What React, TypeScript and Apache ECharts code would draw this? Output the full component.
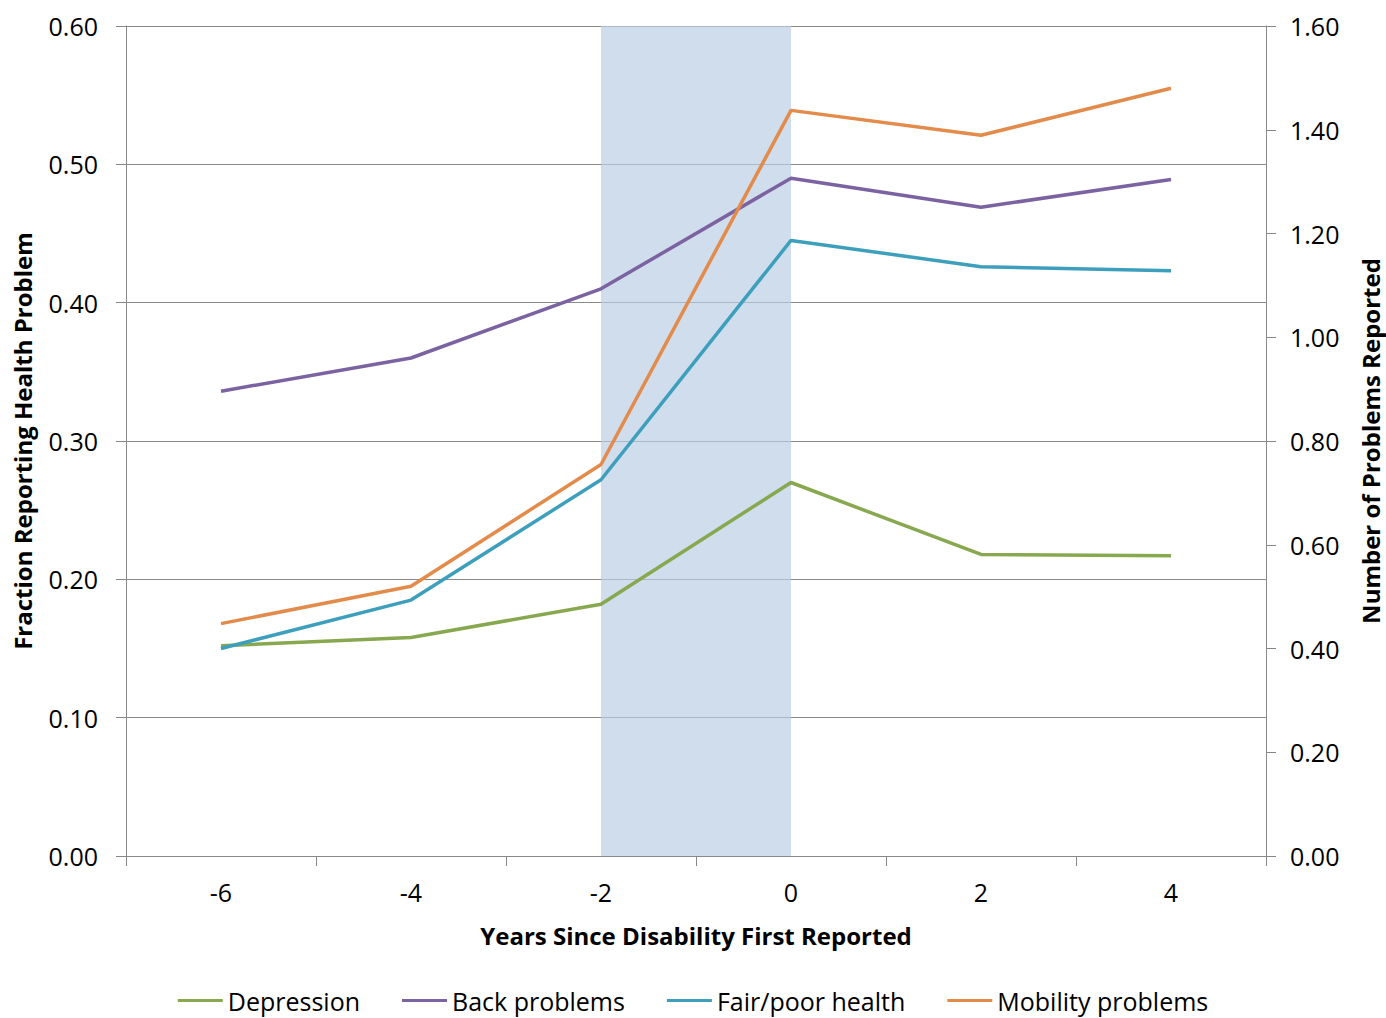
import React, { useEffect, useRef } from "react";
import * as echarts from "echarts";

const categories = ["-6", "-4", "-2", "0", "2", "4"];
const depression = [0.152, 0.158, 0.182, 0.27, 0.218, 0.217];
const backProblems = [0.336, 0.36, 0.41, 0.49, 0.469, 0.489];
const fairPoorHealth = [0.15, 0.185, 0.272, 0.445, 0.426, 0.423];
const mobilityProblems = [0.168, 0.195, 0.283, 0.539, 0.521, 0.555];
const shadeRange = ["-2", "0"];

const FONT = "'Open Sans', sans-serif";

export default function App() {
  const ref = useRef<HTMLDivElement>(null);
  useEffect(() => {
    if (!ref.current) return;
    const chart = echarts.init(ref.current, null, { renderer: "svg" });
    const mk = (name: string, data: number[], color: string, extra: any = {}) => ({
      name,
      type: "line",
      data,
      symbol: "none",
      lineStyle: { color, width: 3.5 },
      itemStyle: { color },
      z: 3,
      ...extra,
    });
    chart.setOption({
      animation: false,
      textStyle: { fontFamily: FONT },
      grid: { left: 126, right: 120, top: 26, bottom: 162, outerBoundsMode: "none", containLabel: false },
      legend: {
        bottom: 0,
        left: "center",
        icon: "rect",
        itemWidth: 45,
        itemHeight: 3,
        itemGap: 42,
        textStyle: { fontSize: 25, color: "#000", fontFamily: FONT },
        data: ["Depression", "Back problems", "Fair/poor health", "Mobility problems"],
      },
      xAxis: {
        type: "category",
        data: categories,
        boundaryGap: true,
        axisLine: { lineStyle: { color: "#888", width: 1 } },
        axisTick: { show: true, length: 10, lineStyle: { color: "#888" }, alignWithLabel: false },
        axisLabel: { fontSize: 25, color: "#000", margin: 23, fontFamily: FONT },
        name: "Years Since Disability First Reported",
        nameLocation: "middle",
        nameGap: 67,
        nameTextStyle: { fontSize: 24, fontWeight: "bold", color: "#000", fontFamily: FONT },
        splitLine: { show: false },
      },
      yAxis: [
        {
          type: "value",
          min: 0,
          max: 0.6,
          interval: 0.1,
          position: "left",
          axisLine: { show: true, lineStyle: { color: "#888" } },
          axisTick: { show: true, length: 10, lineStyle: { color: "#888" } },
          axisLabel: {
            fontSize: 25,
            color: "#000",
            margin: 28,
            fontFamily: FONT,
            formatter: (v: number) => v.toFixed(2),
          },
          splitLine: { show: true, lineStyle: { color: "#8a8a8a", width: 1 } },
          name: "Fraction Reporting Health Problem",
          nameLocation: "middle",
          nameGap: 92,
          nameRotate: 90,
          nameTextStyle: { fontSize: 24, fontWeight: "bold", color: "#000", fontFamily: FONT },
        },
        {
          type: "value",
          min: 0,
          max: 1.6,
          interval: 0.2,
          position: "right",
          axisLine: { show: true, lineStyle: { color: "#888" } },
          axisTick: { show: true, length: 10, lineStyle: { color: "#888" } },
          axisLabel: {
            fontSize: 25,
            color: "#000",
            margin: 24,
            fontFamily: FONT,
            formatter: (v: number) => v.toFixed(2),
          },
          splitLine: { show: false },
          name: "Number of Problems Reported",
          nameLocation: "middle",
          nameGap: 92,
          nameRotate: 90,
          nameTextStyle: { fontSize: 24, fontWeight: "bold", color: "#000", fontFamily: FONT },
        },
      ],
      series: [
        mk("Depression", depression, "#87a84f", {
          markArea: {
            silent: true,
            itemStyle: { color: "rgba(185,205,228,0.68)" },
            data: [[{ xAxis: shadeRange[0] }, { xAxis: shadeRange[1] }]],
            z: 1,
          },
        }),
        mk("Back problems", backProblems, "#7b62a1"),
        mk("Fair/poor health", fairPoorHealth, "#3e9fbd"),
        mk("Mobility problems", mobilityProblems, "#e38b4b"),
      ],
    });
    return () => chart.dispose();
  }, []);
  return (
    <div
      ref={ref}
      style={{ position: "absolute", left: 0, top: 0, width: 1386, height: 1018 }}
    />
  );
}
